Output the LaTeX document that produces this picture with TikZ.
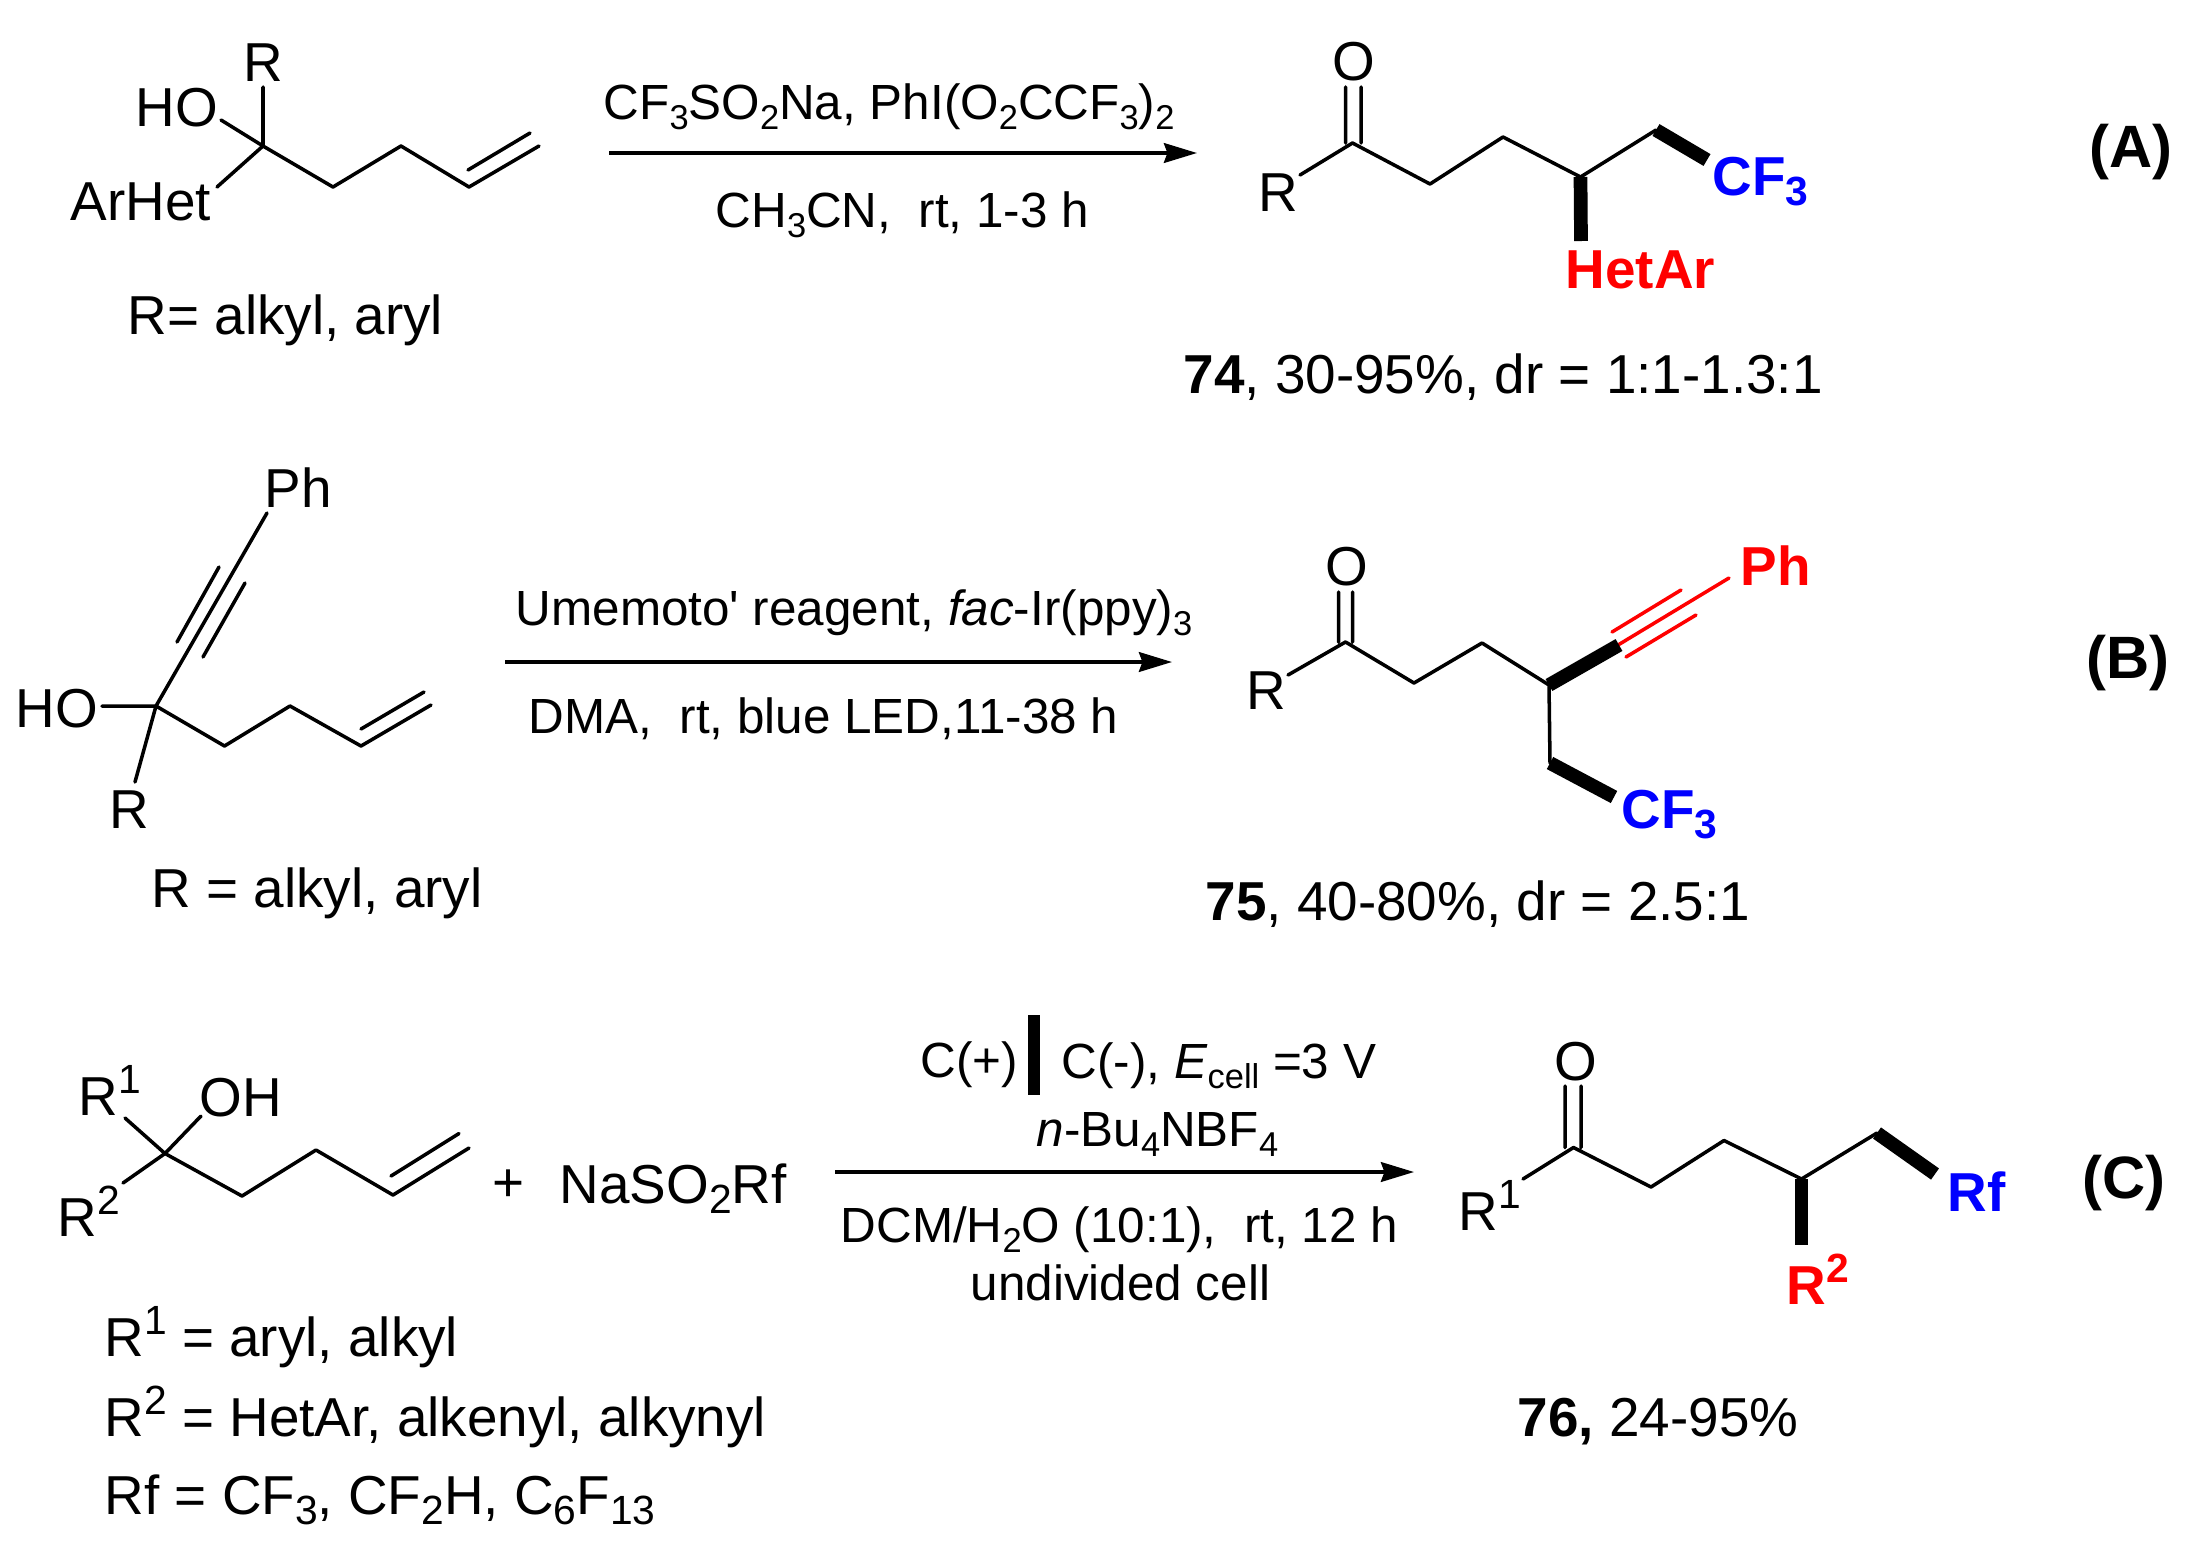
\documentclass[tikz,border=0pt]{standalone}
\usepackage{fontspec}
\newfontfamily\arialfont{Liberation Sans}
\usetikzlibrary{arrows.meta}
\def\subsz{11.6}
\newcommand{\lo}[1]{\raisebox{-2.9pt}{\fontsize{\subsz}{10.5}\selectfont #1}}
\newcommand{\hi}[1]{\raisebox{6pt}{\fontsize{\subsz}{10.5}\selectfont #1}}
\tikzset{
    lbl/.style={anchor=base west,inner sep=0pt,font=\arialfont\fontsize{15.6}{18}\selectfont},
    rgt/.style={lbl,font=\arialfont\fontsize{14.05}{18}\selectfont\def\subsz{9.8}},
    tag/.style={lbl,font=\arialfont\bfseries\fontsize{17}{18}\selectfont},
    mid/.style={lbl,anchor=base},
    bond/.style={line width=1pt,line cap=round,line join=round},
    boldbond/.style={line width=3.9pt,line cap=butt},
    rxn/.style={line width=1.05pt,-{Stealth[length=9.4pt,width=5.6pt,inset=1pt]}},
}

\begin{document}
\begin{tikzpicture}[x=0.01cm,y=-0.01cm]
\useasboundingbox (0,0) rectangle (2203,1551);
% reaction A, substrate
\coordinate (aq) at (263,146);
\coordinate (aR) at (263,87);
\coordinate (aO) at (221,120);
\coordinate (aAr) at (217,187);
\coordinate (a1) at (333,187);
\coordinate (a2) at (401,146);
\coordinate (a3) at (469,187);
\coordinate (a4) at (539,146);
\coordinate (a5) at (468,170);
\coordinate (a6) at (530,133);
\draw[bond] (aR) -- (aq) (aO) -- (aq) (aAr) -- (aq) -- (a1) -- (a2) -- (a3) -- (a4) (a5) -- (a6);
\node[lbl] (aRlbl) at (243,81) {R};
\node[lbl] (aHO) at (135,126) {HO};
\node[lbl] (aArHet) at (70,220) {ArHet};
\node[lbl] (aRdef) at (127,334) {R= alkyl, aryl};
% reaction A, arrow
\coordinate (aL) at (609,153);
\coordinate (aE) at (1197,153);
\draw[rxn] (aL) -- (aE);
\node[rgt] (aTop) at (603,119) {CF\lo{3}SO\lo{2}Na, PhI(O\lo{2}CCF\lo{3})\lo{2}};
\node[rgt] (aBot) at (715,227) {CH\lo{3}CN,\ \ rt, 1-3 h};
% reaction A, product
\coordinate (pC) at (1352.5,143);
\coordinate (pR) at (1300,175);
\coordinate (p1) at (1430,184);
\coordinate (p2) at (1503,137);
\coordinate (p3) at (1580.5,177);
\coordinate (p4) at (1656,130);
\coordinate (p5) at (1707,160);
\coordinate (p6) at (1581,241);
\coordinate (pOa) at (1345.5,87);
\coordinate (pOb) at (1361,87);
\coordinate (pCa) at (1345.5,143);
\coordinate (pCb) at (1361,143);
\draw[bond] (pR) -- (pC) -- (p1) -- (p2) -- (p3) -- (p4) (pOa) -- (pCa) (pOb) -- (pCb);
\draw[boldbond] (p4) -- (p5);
\draw[boldbond] (p3) -- (p6);
\node[mid] (pO) at (1354,80) {O};
\node[lbl] (pRlbl) at (1258,211) {R};
\node[lbl,text=blue] (pCF) at (1712,195) {\bfseries CF\lo{3}};
\node[lbl,text=red] (pHet) at (1565,288) {\bfseries HetAr};
\node[lbl] (pYield) at (1183,393) {{\bfseries 74}, 30-95\%, dr = 1:1-1.3:1};
\node[tag] (pTag) at (2089,167) {(A)};
% reaction B, substrate
\coordinate (bq) at (156,706);
\coordinate (bPh) at (267,513);
\coordinate (bO) at (102,706);
\coordinate (bR) at (135,782);
\coordinate (b1) at (224.5,746);
\coordinate (b2) at (290,706);
\coordinate (b3) at (361,746);
\coordinate (b4) at (431,705);
\coordinate (b5) at (361,729);
\coordinate (b6) at (424,692);
\coordinate (t1) at (177,642);
\coordinate (t2) at (219,567);
\coordinate (t3) at (203,657);
\coordinate (t4) at (245,583);
\draw[bond] (bPh) -- (bq) -- (bR) (bO) -- (bq) -- (b1) -- (b2) -- (b3) -- (b4) (b5) -- (b6) (t1) -- (t2) (t3) -- (t4);
\node[lbl] (bPhlbl) at (264,507) {Ph};
\node[lbl] (bHO) at (15,727) {HO};
\node[lbl] (bRlbl) at (109,828) {R};
\node[lbl] (bRdef) at (151,907) {R = alkyl, aryl};
% reaction B, arrow
\coordinate (bL) at (505,662);
\coordinate (bE) at (1172,662);
\draw[rxn] (bL) -- (bE);
\node[rgt] (bTop) at (515,625) {Umemoto' reagent, \textit{fac}-Ir(ppy)\lo{3}};
\node[rgt] (bBot) at (528,733) {DMA,\ \ rt, blue LED,11-38 h};
% reaction B, product
\coordinate (qC) at (1345.5,642);
\coordinate (qR) at (1288,675);
\coordinate (q1) at (1414,683);
\coordinate (q2) at (1482,643);
\coordinate (q3) at (1549,685);
\coordinate (q4) at (1619,645);
\coordinate (q5) at (1550,763);
\coordinate (q6) at (1614,797);
\coordinate (qOa) at (1338.5,592);
\coordinate (qOb) at (1352.5,592);
\coordinate (qCa) at (1338.5,642);
\coordinate (qCb) at (1352.5,642);
\coordinate (r1) at (1618,645);
\coordinate (r2) at (1729,578);
\coordinate (r3) at (1612,632);
\coordinate (r4) at (1681,590);
\coordinate (r5) at (1626,657);
\coordinate (r6) at (1696,615);
\draw[bond] (qR) -- (qC) -- (q1) -- (q2) -- (q3) -- (q5) (qOa) -- (qCa) (qOb) -- (qCb);
\draw[bond,red] (r1) -- (r2) (r3) -- (r4) (r5) -- (r6);
\draw[boldbond] (q3) -- (q4);
\draw[boldbond] (q5) -- (q6);
\node[mid] (qO) at (1346.5,585) {O};
\node[lbl] (qRlbl) at (1246,709) {R};
\node[lbl,text=blue] (qCF) at (1621,828) {\bfseries CF\lo{3}};
\node[lbl,text=red] (qPh) at (1740,585) {\bfseries Ph};
\node[lbl] (qYield) at (1205,920) {{\bfseries 75}, 40-80\%, dr = 2.5:1};
\node[tag] (qTag) at (2086,678) {(B)};
% reaction C, substrate
\coordinate (cq) at (165,1153.5);
\coordinate (cRa) at (125,1118);
\coordinate (cO) at (201,1116);
\coordinate (cRb) at (123,1183);
\coordinate (c1) at (242,1196);
\coordinate (c2) at (316,1150);
\coordinate (c3) at (393,1195);
\coordinate (c4) at (469,1148);
\coordinate (c5) at (391,1176);
\coordinate (c6) at (459,1133.5);
\draw[bond] (cRa) -- (cq) (cO) -- (cq) (cRb) -- (cq) -- (c1) -- (c2) -- (c3) -- (c4) (c5) -- (c6);
\node[lbl] (cR1) at (78,1115) {R\hi{1}};
\node[lbl] (cOH) at (199,1116) {OH};
\node[lbl] (cR2) at (57,1236) {R\hi{2}};
\node[mid] (cPlus) at (509,1201) {+};
\node[lbl] (cSalt) at (559,1203) {NaSO\lo{2}Rf};
\node[lbl] (cDefa) at (104,1356) {R\hi{1} = aryl, alkyl};
\node[lbl] (cDefb) at (104,1436) {R\hi{2} = HetAr, alkenyl, alkynyl};
\node[lbl] (cDefc) at (104,1514) {Rf = CF\lo{3}, CF\lo{2}H, C\lo{6}F\lo{13}};
% reaction C, arrow
\coordinate (cL) at (835,1172);
\coordinate (cE) at (1414,1172);
\coordinate (cBara) at (1034,1015);
\coordinate (cBarb) at (1034,1095);
\draw[rxn] (cL) -- (cE);
\draw[line width=3.4pt] (cBara) -- (cBarb);
\node[rgt] (cPos) at (920,1077) {C(+)};
\node[rgt] (cNeg) at (1061,1078) {C(-), \textit{E}\lo{cell} =3 V};
\node[rgt] (cSalta) at (1036,1146) {\textit{n}-Bu\lo{4}NBF\lo{4}};
\node[rgt] (cSolv) at (840,1242) {DCM/H\lo{2}O (10:1),\ \ rt, 12 h};
\node[rgt] (cCell) at (970,1300) {undivided cell};
% reaction C, product
\coordinate (sC) at (1573.5,1147.5);
\coordinate (sR) at (1523,1179);
\coordinate (s1) at (1651,1187);
\coordinate (s2) at (1724,1140.5);
\coordinate (s3) at (1801.5,1179);
\coordinate (s4) at (1877,1133);
\coordinate (s5) at (1935,1174);
\coordinate (s6) at (1801.5,1245);
\coordinate (sOa) at (1565,1086);
\coordinate (sOb) at (1581,1086);
\coordinate (sCa) at (1565,1147.5);
\coordinate (sCb) at (1581,1147.5);
\draw[bond] (sR) -- (sC) -- (s1) -- (s2) -- (s3) -- (s4) (sOa) -- (sCa) (sOb) -- (sCb);
\draw[boldbond] (s4) -- (s5);
\draw[boldbond] (s3) -- (s6);
\node[mid] (sO) at (1576,1080) {O};
\node[lbl] (sR1) at (1458,1230) {R\hi{1}};
\node[lbl,text=blue] (sRf) at (1947,1211) {\bfseries Rf};
\node[lbl,text=red] (sR2) at (1786,1304) {\bfseries R\hi{2}};
\node[lbl] (sYield) at (1517,1436) {{\bfseries 76,} 24-95\%};
\node[tag] (sTag) at (2082,1198) {(C)};
\end{tikzpicture}
\end{document}
